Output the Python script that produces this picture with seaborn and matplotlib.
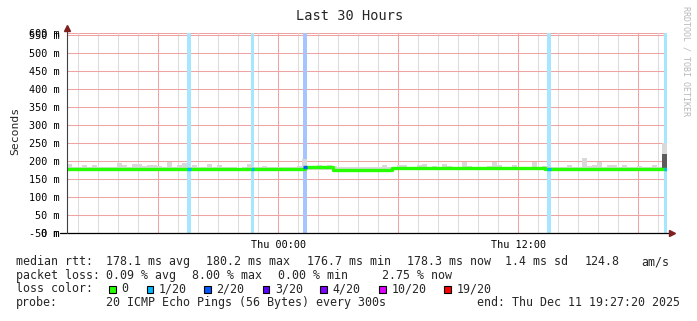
import datetime as dt
import numpy as np
import pandas as pd
import matplotlib
matplotlib.use("Agg")
import matplotlib.pyplot as plt
import matplotlib.dates as mdates
from matplotlib.ticker import FuncFormatter
from matplotlib.patches import Rectangle
from matplotlib.lines import Line2D
from matplotlib.colors import to_rgb
import seaborn as sns

# ---------------- data ----------------
title = "Last 30 Hours"
y_label = "Seconds"
watermark = "RRDTOOL / TOBI OETIKER"
end_time = dt.datetime(2025, 12, 11, 19, 27, 20)
span_hours = 30

# smoke: top of the ping spread (ms) in 15-minute bins from the start
smoke_bin_hours = 0.25
smoke_top_ms = [
    192, 183, 183, 189, 184, 190, 183, 183, 183, 184,
    196, 190, 184, 192, 192, 188, 190, 189, 186, 183,
    197, 184, 189, 196, 183, 189, 183, 183, 192, 183,
    190, 183, 183, 183, 182, 183, 193, 184, 183, 186,
    183, 183, 185, 183, 183, 183, 188, 206, 184, 186,
    190, 186, 189, 186, 183, 183, 183, 183, 183, 183,
    183, 183, 184, 190, 184, 185, 190, 190, 185, 184,
    190, 193, 185, 187, 185, 193, 186, 185, 185, 199,
    186, 185, 185, 185, 186, 197, 190, 185, 184, 191,
    184, 184, 185, 197, 184, 188, 183, 184, 185, 185,
    189, 183, 184, 210, 186, 190, 199, 185, 190, 190,
    185, 189, 184, 184, 186, 184, 185, 189, 184, 250,
]
dense_bins = [119]
dense_top_ms = [220]

# median rtt (ms), step changes at these hour offsets
median_break_h = [0, 11.9, 13.3, 16.25, 23.9, 30]
median_ms = [178.5, 183.0, 177.0, 181.5, 179.0, 179.0]

# packet-loss events
loss_at_h = [6.08, 9.28, 11.9, 24.1, 29.9]
loss_width_h = [0.2, 0.15, 0.2, 0.2, 0.15]
loss_level = ["1/20", "1/20", "2/20", "1/20", "1/20"]

loss_labels = ["0", "1/20", "2/20", "3/20", "4/20", "10/20", "19/20"]
loss_colors = ["#26ff00", "#00b8ff", "#0059ff", "#5e00ff", "#7e00ff", "#dd00ff", "#ff0000"]

y_ticks_ms = [0, 50, 100, 150, 200, 250, 300, 350, 400, 450, 500, 550]
y_extra_labels = ["-50 m", "600 m"]

rtt_head = "median rtt:"
rtt_stats = ["178.1 ms avg", "180.2 ms max", "176.7 ms min", "178.3 ms now",
             "1.4 ms sd", "124.8", "am/s"]
loss_head = "packet loss:"
loss_stats = ["0.09 % avg", "8.00 % max", "0.00 % min", "2.75 % now"]
color_head = "loss color:"
probe_head = "probe:"
probe_text = "20 ICMP Echo Pings (56 Bytes) every 300s"
end_text = "end: Thu Dec 11 19:27:20 2025"

# ---------------- layout ----------------
sns.set_style("white")
plt.rcParams["font.family"] = ["DejaVu Sans Mono"]

W, H = 697, 321
fig = plt.figure(figsize=(W / 100, H / 100), dpi=100)
fig.patch.set_facecolor("white")
L, R, T, B = 67.3, 667.3, 33.3, 233.3
ax = fig.add_axes([L / W, 1 - B / H, (R - L) / W, (B - T) / H])


def fx(x):
    return x / W


def fy(y):
    return 1 - y / H


start = end_time - dt.timedelta(hours=span_hours)


def hnum(h):
    return mdates.date2num(start + dt.timedelta(hours=float(h)))


y_top = 555.6
ax.set_xlim(hnum(0), hnum(span_hours))
ax.set_ylim(0, y_top)

# loss background bands
def lighten(c, a=0.35):
    r, g, b = to_rgb(c)
    return (1 - a + a * r, 1 - a + a * g, 1 - a + a * b)

cmap = dict(zip(loss_labels, loss_colors))
for t, w, lv in zip(loss_at_h, loss_width_h, loss_level):
    ax.axvspan(hnum(t - w / 2), hnum(t + w / 2), color=lighten(cmap[lv]), lw=0, zorder=1)

# smoke
smoke_x = [hnum(j * smoke_bin_hours) for j in range(len(smoke_top_ms))]
bin_w = smoke_bin_hours / 24
ax.bar(smoke_x, [v - 176 for v in smoke_top_ms], bottom=176, width=bin_w,
       align="edge", color="#d9d9d9", lw=0, zorder=2)
ax.bar([smoke_x[j] for j in dense_bins], [v - 176 for v in dense_top_ms], bottom=176,
       width=bin_w, align="edge", color="#5c5c5c", lw=0, zorder=2.5)

# median line
df = pd.DataFrame({"t": [hnum(h) for h in median_break_h], "ms": median_ms})
sns.lineplot(data=df, x="t", y="ms", ax=ax, color=loss_colors[0], linewidth=2.4,
             drawstyle="steps-post", estimator=None, zorder=3)


def median_at(h):
    idx = max(i for i, b in enumerate(median_break_h) if b <= h)
    return median_ms[min(idx, len(median_ms) - 1)]


for t, w, lv in zip(loss_at_h, loss_width_h, loss_level):
    m = median_at(t)
    ax.plot([hnum(t - w / 2), hnum(t + w / 2)], [m, m], color=cmap[lv], lw=2.4,
            solid_capstyle="butt", zorder=4)

ax.set_xlabel("")
ax.set_ylabel("")

# axes / grid
ax.xaxis.set_major_locator(mdates.HourLocator(byhour=[0, 6, 12, 18]))
ax.xaxis.set_minor_locator(mdates.HourLocator())


def xfmt(v, p):
    d = mdates.num2date(v)
    return d.strftime("%a %H:%M") if d.hour in (0, 12) else ""


ax.xaxis.set_major_formatter(FuncFormatter(xfmt))
ax.set_yticks(y_ticks_ms)
ax.set_yticklabels([f"{v} m" for v in y_ticks_ms])
ax.yaxis.remove_overlapping_locs = False
ax.set_yticks([0, y_top], minor=True)
ax.set_yticklabels(y_extra_labels, minor=True)

ax.set_axisbelow(True)
grid_major = "#f0a3a3"
grid_minor = "#dcdcdc"
ax.grid(which="major", axis="x", color=grid_major, lw=0.75)
ax.grid(which="minor", axis="x", color=grid_minor, lw=0.75)
ax.grid(which="major", axis="y", color=grid_major, lw=0.75)
ax.axhline(y_top, color=grid_major, lw=0.75, zorder=0.5)

ax.tick_params(axis="y", which="both", length=2, width=0.75, color=grid_major, pad=3.5,
               labelsize=7.3, labelcolor="black")
ax.tick_params(axis="x", which="both", length=0, pad=5, labelsize=7.3, labelcolor="black")
for s in ax.spines.values():
    s.set_visible(False)

arrow_col = "#7f1f1f"
fig.add_artist(Line2D([fx(60), fx(670)], [fy(233.3), fy(233.3)], color="black", lw=0.9))
fig.add_artist(Line2D([fx(L), fx(L)], [fy(233.3), fy(28)], color="#404040", lw=0.8))
fig.add_artist(Line2D([fx(L)], [fy(28)], marker="^", markersize=4, color=arrow_col, lw=0))
fig.add_artist(Line2D([fx(672)], [fy(233.3)], marker=">", markersize=4, color=arrow_col, lw=0))

# texts
fig.text(fx(350), fy(16), title, ha="center", va="center", fontsize=9.8)
fig.text(fx(15), fy(131), y_label, rotation=90, ha="center", va="center", fontsize=8.2)
fig.text(fx(686), fy(61.5), watermark, rotation=270, ha="center", va="center",
         fontsize=6, color="#b8b8b8")

fs = 8.4
rows_y = [261.7, 275.2, 289.0, 302.7]


def put(x, y, s):
    fig.text(fx(x - 1), fy(y), s, ha="left", va="center", fontsize=fs)


put(17, rows_y[0], rtt_head)
for s, x in zip(rtt_stats, [107, 207, 308, 408, 506, 586, 642]):
    put(x, rows_y[0], s)
put(17, rows_y[1], loss_head)
for s, x in zip(loss_stats, [107, 193, 279, 383]):
    put(x, rows_y[1], s)
put(17, rows_y[2], color_head)
for lab, col, x in zip(loss_labels, loss_colors, [109.3, 146.7, 204, 262.7, 320, 379.3, 444]):
    fig.add_artist(Rectangle((fx(x), fy(292.8)), 6.7 / W, 6.7 / H, transform=fig.transFigure,
                             facecolor=col, edgecolor="black", lw=0.8))
    put(x + 13.4, rows_y[2], lab)
put(17, rows_y[3], probe_head)
put(107, rows_y[3], probe_text)
put(478, rows_y[3], end_text)

fig.savefig("out.png", dpi=100, facecolor="white")
